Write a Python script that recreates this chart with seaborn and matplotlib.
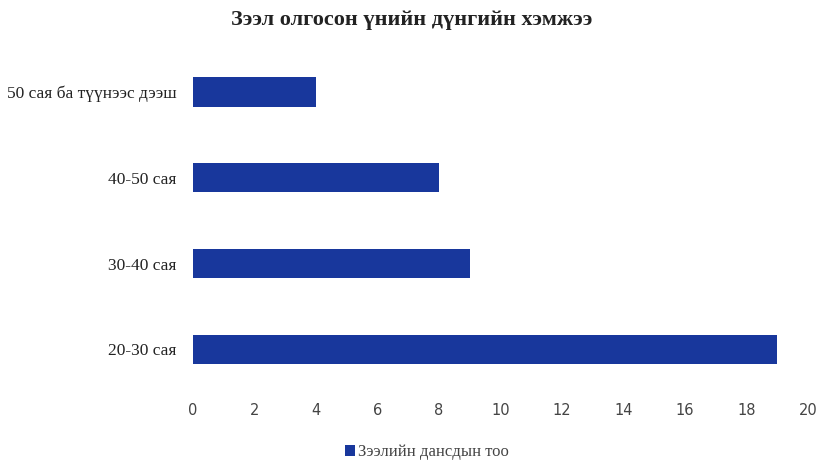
import matplotlib
matplotlib.use("Agg")
import matplotlib.pyplot as plt
import seaborn as sns
import pandas as pd

categories = ["50 сая ба түүнээс дээш", "40-50 сая", "30-40 сая", "20-30 сая"]
counts = [4, 8, 9, 19]
series_name = "Зээлийн дансдын тоо"
title = "Зээл олгосон үнийн дүнгийн хэмжээ"
xticks = [0, 2, 4, 6, 8, 10, 12, 14, 16, 18, 20]

df = pd.DataFrame({"category": categories, "count": counts})

sns.set_style("white")
fig = plt.figure(figsize=(8.19, 4.72), dpi=100)
ax = fig.add_axes([0.2357, 0.169, 0.7509, 0.727])

sns.barplot(data=df, y="category", x="count", orient="h", color="#18379c",
            saturation=1, width=0.34, label=series_name, linewidth=0, ax=ax)

ax.set_xlim(0, 20)
ax.set_ylim(3.5, -0.5)
ax.set_xticks(xticks)
ax.set_xticklabels([str(t) for t in xticks], fontsize=10.5, color="#444444",
                   family="DejaVu Sans")
ax.set_yticklabels(categories, fontsize=12.5, family="Liberation Serif", color="#222222")
ax.tick_params(axis="x", length=0, pad=8)
ax.tick_params(axis="y", length=0, pad=12)
ax.set_xlabel("")
ax.set_ylabel("")
sns.despine(ax=ax, left=True, bottom=True)

fig.suptitle(title, x=0.503, y=0.978, fontsize=16, fontweight="bold",
             family="Liberation Serif", color="#222222")

leg = ax.legend(loc="center", bbox_to_anchor=(0.521, 0.042),
                bbox_transform=fig.transFigure, frameon=False, handlelength=0.6,
                handleheight=0.6, handletextpad=0.2,
                prop={"family": "Liberation Serif", "size": 12})
for t in leg.get_texts():
    t.set_color("#444444")

fig.savefig("out.png", dpi=100)
